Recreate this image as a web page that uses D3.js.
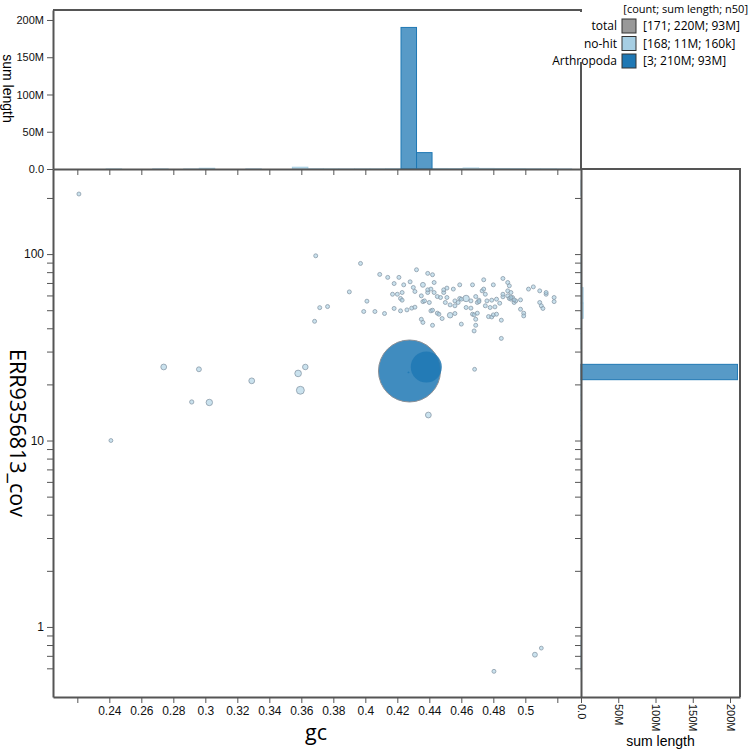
<!DOCTYPE html>
<html>
<head>
<meta charset="utf-8">
<script src="https://cdn.jsdelivr.net/npm/d3@7"></script>
<style>
  body { margin: 0; background: #fff; }
  text { font-family: "Liberation Sans", Arial, sans-serif; }
  .axis path.domain { stroke: #555; stroke-width: 2; }
  .axis line { stroke: #555; }
  .axis text { font-size: 12px; fill: #111; }
</style>
</head>
<body>
<svg id="chart" width="750" height="750"></svg>
<script>
// contigs: [gc, coverage, length]
const noHit = [
  [0.221, 210, 2e4], [0.241, 10.0, 1.8e4], [0.274, 24.8, 7e4], [0.296, 24.1, 4e4],
  [0.2915, 16.1, 2.5e4], [0.3025, 16.0, 1e5], [0.329, 20.9, 7e4], [0.358, 22.9, 1.1e5],
  [0.3625, 24.8, 6e4], [0.3594, 18.6, 2e5], [0.4394, 13.7, 7e4], [0.4683, 24.1, 1.8e4],
  [0.4804, 0.578, 2e4], [0.506, 0.71, 4e4], [0.510, 0.77, 1.8e4],
  [0.369, 97.9, 2e4], [0.3715, 51.6, 2e4], [0.3764, 52.3, 2e4], [0.3683, 43.6, 2e4],
  [0.397, 89.1, 2e4], [0.409, 77.8, 2e4], [0.414, 75.0, 2e4], [0.421, 75.0, 2e4],
  [0.432, 82.4, 2e4], [0.439, 78.8, 2e4], [0.442, 77.5, 2e4], [0.418, 69.5, 2e4],
  [0.424, 68.4, 2e4], [0.428, 71.0, 2e4], [0.436, 68.4, 4e4], [0.443, 70.4, 2e4],
  [0.390, 62.7, 2e4], [0.417, 60.9, 2e4], [0.420, 60.9, 2e4], [0.423, 62.2, 2e4],
  [0.422, 57.8, 2e4], [0.423, 56.6, 2e4], [0.430, 66.2, 2e4], [0.431, 63.0, 2e4],
  [0.435, 59.7, 2e4], [0.439, 62.2, 2e4], [0.439, 64.3, 2e4], [0.441, 64.9, 2e4],
  [0.443, 62.2, 2e4], [0.445, 59.2, 2e4], [0.447, 58.5, 2e4], [0.449, 62.2, 2e4],
  [0.449, 64.3, 2e4], [0.451, 65.7, 2e4], [0.455, 64.9, 2e4], [0.459, 68.4, 2e4],
  [0.467, 68.4, 2e4], [0.474, 72.8, 2e4], [0.480, 68.4, 2e4], [0.486, 74.0, 2e4],
  [0.489, 70.4, 2e4], [0.490, 67.6, 2e4], [0.502, 64.9, 2e4], [0.505, 66.7, 2e4],
  [0.509, 63.5, 2e4], [0.513, 60.9, 2e4], [0.513, 62.2, 2e4], [0.401, 55.9, 2e4],
  [0.399, 49.2, 2e4], [0.406, 49.2, 2e4], [0.412, 48.0, 2e4], [0.418, 51.1, 2e4],
  [0.422, 49.6, 2e4], [0.426, 50.2, 2e4], [0.429, 51.3, 2e4], [0.431, 51.9, 2e4],
  [0.436, 55.6, 2e4], [0.437, 56.1, 2e4], [0.440, 55.0, 2e4], [0.441, 49.6, 2e4],
  [0.442, 50.0, 2e4], [0.445, 48.2, 2e4], [0.446, 47.6, 2e4], [0.448, 45.1, 2e4],
  [0.450, 55.0, 2e4], [0.451, 58.5, 2e4], [0.453, 53.4, 2e4], [0.456, 56.1, 2e4],
  [0.459, 57.8, 2e4], [0.460, 57.3, 2e4], [0.463, 57.8, 1e5], [0.466, 56.1, 2e4],
  [0.469, 59.2, 2e4], [0.470, 55.0, 2e4], [0.471, 56.6, 2e4], [0.471, 55.6, 2e4],
  [0.473, 63.5, 2e4], [0.474, 64.9, 2e4], [0.475, 60.9, 2e4], [0.476, 56.1, 2e4],
  [0.479, 56.6, 2e4], [0.482, 57.3, 2e4], [0.484, 54.5, 2e4], [0.486, 59.0, 2e4],
  [0.486, 60.9, 2e4], [0.489, 59.7, 2e4], [0.490, 57.8, 2e4], [0.491, 57.3, 2e4],
  [0.492, 58.5, 2e4], [0.493, 55.0, 2e4], [0.494, 56.1, 2e4], [0.497, 56.8, 2e4],
  [0.499, 48.2, 2e4], [0.497, 50.6, 2e4], [0.499, 46.6, 2e4], [0.509, 55.0, 2e4],
  [0.510, 52.8, 2e4], [0.511, 51.1, 2e4], [0.518, 58.5, 2e4], [0.518, 55.6, 2e4],
  [0.435, 44.7, 2e4], [0.436, 43.0, 2e4], [0.442, 41.5, 2e4], [0.453, 47.0, 6e4],
  [0.456, 48.0, 2e4], [0.460, 42.1, 2e4], [0.463, 51.7, 2e4], [0.466, 51.3, 2e4],
  [0.467, 47.6, 2e4], [0.468, 47.2, 2e4], [0.469, 44.7, 2e4], [0.470, 48.2, 2e4],
  [0.469, 41.5, 2e4], [0.468, 38.7, 2e4], [0.477, 46.2, 2e4], [0.478, 51.7, 2e4],
  [0.479, 46.0, 2e4], [0.480, 47.2, 2e4], [0.482, 47.6, 2e4], [0.485, 44.2, 2e4],
  [0.485, 35.3, 2e4], [0.475, 52.8, 2e4], [0.481, 52.1, 2e4], [0.489, 63.5, 2e4],
  [0.491, 62.2, 2e4], [0.491, 58.5, 2e4], [0.493, 56.8, 2e4], [0.458, 55.0, 2e4],
  [0.456, 52.8, 2e4]
]
// the smallest Arthropoda contig sits under the big one
const arthropoda = [[0.4276, 23.6, 190e6], [0.4381, 24.8, 19e6], [0.4270, 23.2, 2e3]]

// histogram bins: [bin start, sum length]
const gcBinWidth = 0.0097
const gcBinsNoHit = [
  [0.2380, 0.02e6], [0.2671, 0.1e6], [0.2865, 0.05e6], [0.2962, 1.0e6], [0.3253, 0.1e6],
  [0.3544, 2.4e6], [0.3641, 0.25e6], [0.3738, 0.15e6], [0.3835, 0.1e6], [0.3932, 0.2e6],
  [0.4029, 0.2e6], [0.4126, 0.4e6], [0.4223, 0.5e6], [0.4320, 0.6e6], [0.4417, 0.7e6],
  [0.4514, 0.6e6], [0.4611, 1.3e6], [0.4708, 0.8e6], [0.4805, 0.7e6], [0.4902, 0.5e6],
  [0.4999, 0.3e6], [0.5096, 0.3e6], [0.5193, 0.1e6]
]
const gcBinsArth = [[0.4223, 190e6], [0.4320, 22e6]]

const covBinWidth = 0.0823  // log10 units
const covBinsNoHit = [
  [-0.2374, 0.02e6], [-0.1551, 0.06e6], [0.9971, 0.02e6], [1.0794, 0.07e6], [1.1617, 0.12e6],
  [1.2440, 0.3e6], [1.3263, 0.25e6], [1.4909, 0.05e6], [1.5732, 0.3e6], [1.6555, 3.0e6],
  [1.7378, 2.8e6], [1.8201, 0.6e6], [1.9024, 0.1e6], [2.3139, 0.02e6]
]
const covBinsArth = [[1.3263, 210e6]]

const gcTicks = [0.22, 0.24, 0.26, 0.28, 0.3, 0.32, 0.34, 0.36, 0.38, 0.4, 0.42, 0.44, 0.46, 0.48, 0.5, 0.52]
const covTicks = [0.6, 0.7, 0.8, 0.9, 1, 2, 3, 4, 5, 6, 7, 8, 9, 10, 20, 30, 40, 50, 60, 70, 80, 90, 100, 200]
const covLabels = [1, 10, 100]
const lenTicks = [0, 50e6, 100e6, 150e6, 200e6]

const legendRows = [
  {name: 'total', color: '#999999', text: '[171; 220M; 93M]'},
  {name: 'no-hit', color: '#a6cee3', text: '[168; 11M; 160k]'},
  {name: 'Arthropoda', color: '#1f78b4', text: '[3; 210M; 93M]'}
]

const svg = d3.select('#chart')
const margin = {left: 53, top: 169}
const width = 528, height = 528, histH = 159

const x = d3.scaleLinear().domain([0.2048, 0.5348]).range([0, width])
const y = d3.scaleLog().domain([0.421, 286]).range([height, 0])
const lenScale = d3.scaleLinear().domain([0, 213.4e6]).range([0, histH])
const r = d3.scalePow().exponent(0.3).domain([0, 190e6]).range([0, 31])
const fmtLen = d => d === 0 ? '0.0' : (d / 1e6) + 'M'

// top histogram
const topHist = svg.append('g').attr('transform', `translate(${margin.left}, 10)`)

const drawTop = (bins, color) => topHist.append('g').selectAll('rect')
  .data(bins).enter().append('rect')
    .attr('x', d => x(d[0]))
    .attr('width', d => x(d[0] + gcBinWidth) - x(d[0]))
    .attr('y', d => histH - lenScale(d[1]))
    .attr('height', d => lenScale(d[1]))
    .style('fill', color).style('fill-opacity', 0.75)
    .style('stroke', color).style('stroke-width', 1)
drawTop(gcBinsNoHit, '#a6cee3')
drawTop(gcBinsArth, '#1f78b4')

topHist.append('path').attr('d', `M0,0H${width}V${histH}`)
  .style('fill', 'none').style('stroke', '#555').style('stroke-width', 2)
topHist.append('g').attr('class', 'axis')
  .call(d3.axisLeft(lenScale.copy().range([histH, 0])).tickValues(lenTicks).tickFormat(fmtLen).tickSizeOuter(0))
  .selectAll('text').style('font-size', '11px')
topHist.append('g').attr('class', 'axis').attr('transform', `translate(0, ${histH})`)
  .call(d3.axisBottom(x).tickValues(gcTicks).tickFormat('').tickSizeOuter(0))

topHist.append('text')
  .attr('transform', `translate(-45, ${histH / 2 - 1}) rotate(90)`)
  .attr('text-anchor', 'middle')
  .attr('dy', '0.35em')
  .style('font-size', '14px')
  .text('sum length')

// right histogram
const side = svg.append('g').attr('transform', `translate(${margin.left + width}, ${margin.top})`)

const drawSide = (bins, color) => side.append('g').selectAll('rect')
  .data(bins).enter().append('rect')
    .attr('x', 0)
    .attr('width', d => lenScale(d[1]))
    .attr('y', d => y(Math.pow(10, d[0] + covBinWidth)))
    .attr('height', d => y(Math.pow(10, d[0])) - y(Math.pow(10, d[0] + covBinWidth)))
    .style('fill', color).style('fill-opacity', 0.75)
    .style('stroke', color).style('stroke-width', 1)
drawSide(covBinsNoHit, '#a6cee3')
drawSide(covBinsArth, '#1f78b4')

side.append('path').attr('d', `M0,0H${histH}V${height}`)
  .style('fill', 'none').style('stroke', '#555').style('stroke-width', 2)
side.append('g').attr('class', 'axis')
  .call(d3.axisLeft(y).tickValues(covTicks).tickFormat('').tickSizeOuter(0))
side.append('g').attr('class', 'axis').attr('transform', `translate(0, ${height})`)
  .call(d3.axisBottom(lenScale).tickValues(lenTicks).tickFormat(fmtLen).tickSizeOuter(0))
  .selectAll('text')
    .style('font-size', '11px')
    .attr('transform', 'rotate(90)')
    .attr('x', 7).attr('y', 0).attr('dy', '0.35em')
    .attr('text-anchor', 'start')

side.append('text')
  .attr('x', histH / 2).attr('y', height + 49)
  .attr('text-anchor', 'middle')
  .style('font-size', '14px')
  .text('sum length')

// main scatter
const main = svg.append('g').attr('transform', `translate(${margin.left}, ${margin.top})`)

const points = arthropoda.map(d => ({gc: d[0], cov: d[1], len: d[2], cat: 'Arthropoda'}))
  .sort((a, b) => a.len < 1e6 ? -1 : b.len < 1e6 ? 1 : b.len - a.len)
  .concat(noHit.map(d => ({gc: d[0], cov: d[1], len: d[2], cat: 'no-hit'}))
    .sort((a, b) => b.len - a.len))

main.append('g')
  .selectAll('circle')
  .data(points)
  .enter()
  .append('circle')
    .attr('cx', d => x(d.gc))
    .attr('cy', d => y(d.cov))
    .attr('r', d => d.cat === 'Arthropoda' ? r(d.len) : Math.max(1.8, r(d.len)))
    .style('fill', d => d.cat === 'no-hit' ? '#a6cee3' : '#1f78b4')
    .style('fill-opacity', d => d.cat === 'no-hit' ? 0.6 : 0.85)
    .style('stroke', d => d.cat === 'no-hit' ? '#8a9aa8' : '#8a8f96')
    .style('stroke-width', d => d.cat === 'no-hit' ? 0.8 : 1)
    .style('stroke-opacity', d => d.cat === 'Arthropoda' && d.len < 1e8 ? 0 : 1)

main.append('g').attr('class', 'axis').attr('transform', `translate(0, ${height})`)
  .call(d3.axisBottom(x).tickValues(gcTicks).tickSizeOuter(0)
    .tickFormat(d => (d < 0.23 || d > 0.51) ? '' : d3.format('~g')(+d.toFixed(2))))

main.append('g').attr('class', 'axis')
  .call(d3.axisLeft(y).tickValues(covTicks).tickSizeOuter(0)
    .tickFormat(d => covLabels.includes(d) ? d : ''))

main.append('text')
  .attr('x', width / 2 - 1).attr('y', height + 43)
  .attr('text-anchor', 'middle')
  .style('font-family', '"Open Sans", sans-serif')
  .style('font-size', '21.5px')
  .text('gc')

main.append('text')
  .attr('transform', `translate(-35, ${height / 2}) rotate(90)`)
  .attr('text-anchor', 'middle')
  .attr('dy', '0.35em')
  .style('font-family', '"Open Sans", sans-serif')
  .style('font-size', '21.5px')
  .text('ERR9356813_cov')

// legend
const legend = svg.append('g')
legend.append('rect')
  .attr('x', 555).attr('y', 12).attr('width', 195).attr('height', 50)
  .style('fill', '#fff')
legend.append('text')
  .attr('x', 748).attr('y', 13)
  .attr('text-anchor', 'end')
  .style('font-family', '"Open Sans", sans-serif')
  .style('font-size', '11px')
  .text('[count; sum length; n50]')

const rows = legend.selectAll('.row')
  .data(legendRows).enter().append('g')
    .attr('class', 'row')
    .attr('transform', (d, i) => `translate(0, ${26 + i * 17.5})`)
rows.append('text')
  .attr('x', 617).attr('dy', '0.35em')
  .attr('text-anchor', 'end')
  .style('font-family', '"Open Sans", sans-serif')
  .style('font-size', '12px')
  .text(d => d.name)
rows.append('rect')
  .attr('x', 622).attr('y', -7).attr('width', 14).attr('height', 14)
  .style('fill', d => d.color)
  .style('stroke', '#333').style('stroke-width', 1)
rows.append('text')
  .attr('x', 643).attr('dy', '0.35em')
  .style('font-family', '"Open Sans", sans-serif')
  .style('font-size', '12px')
  .text(d => d.text)
</script>
</body>
</html>
